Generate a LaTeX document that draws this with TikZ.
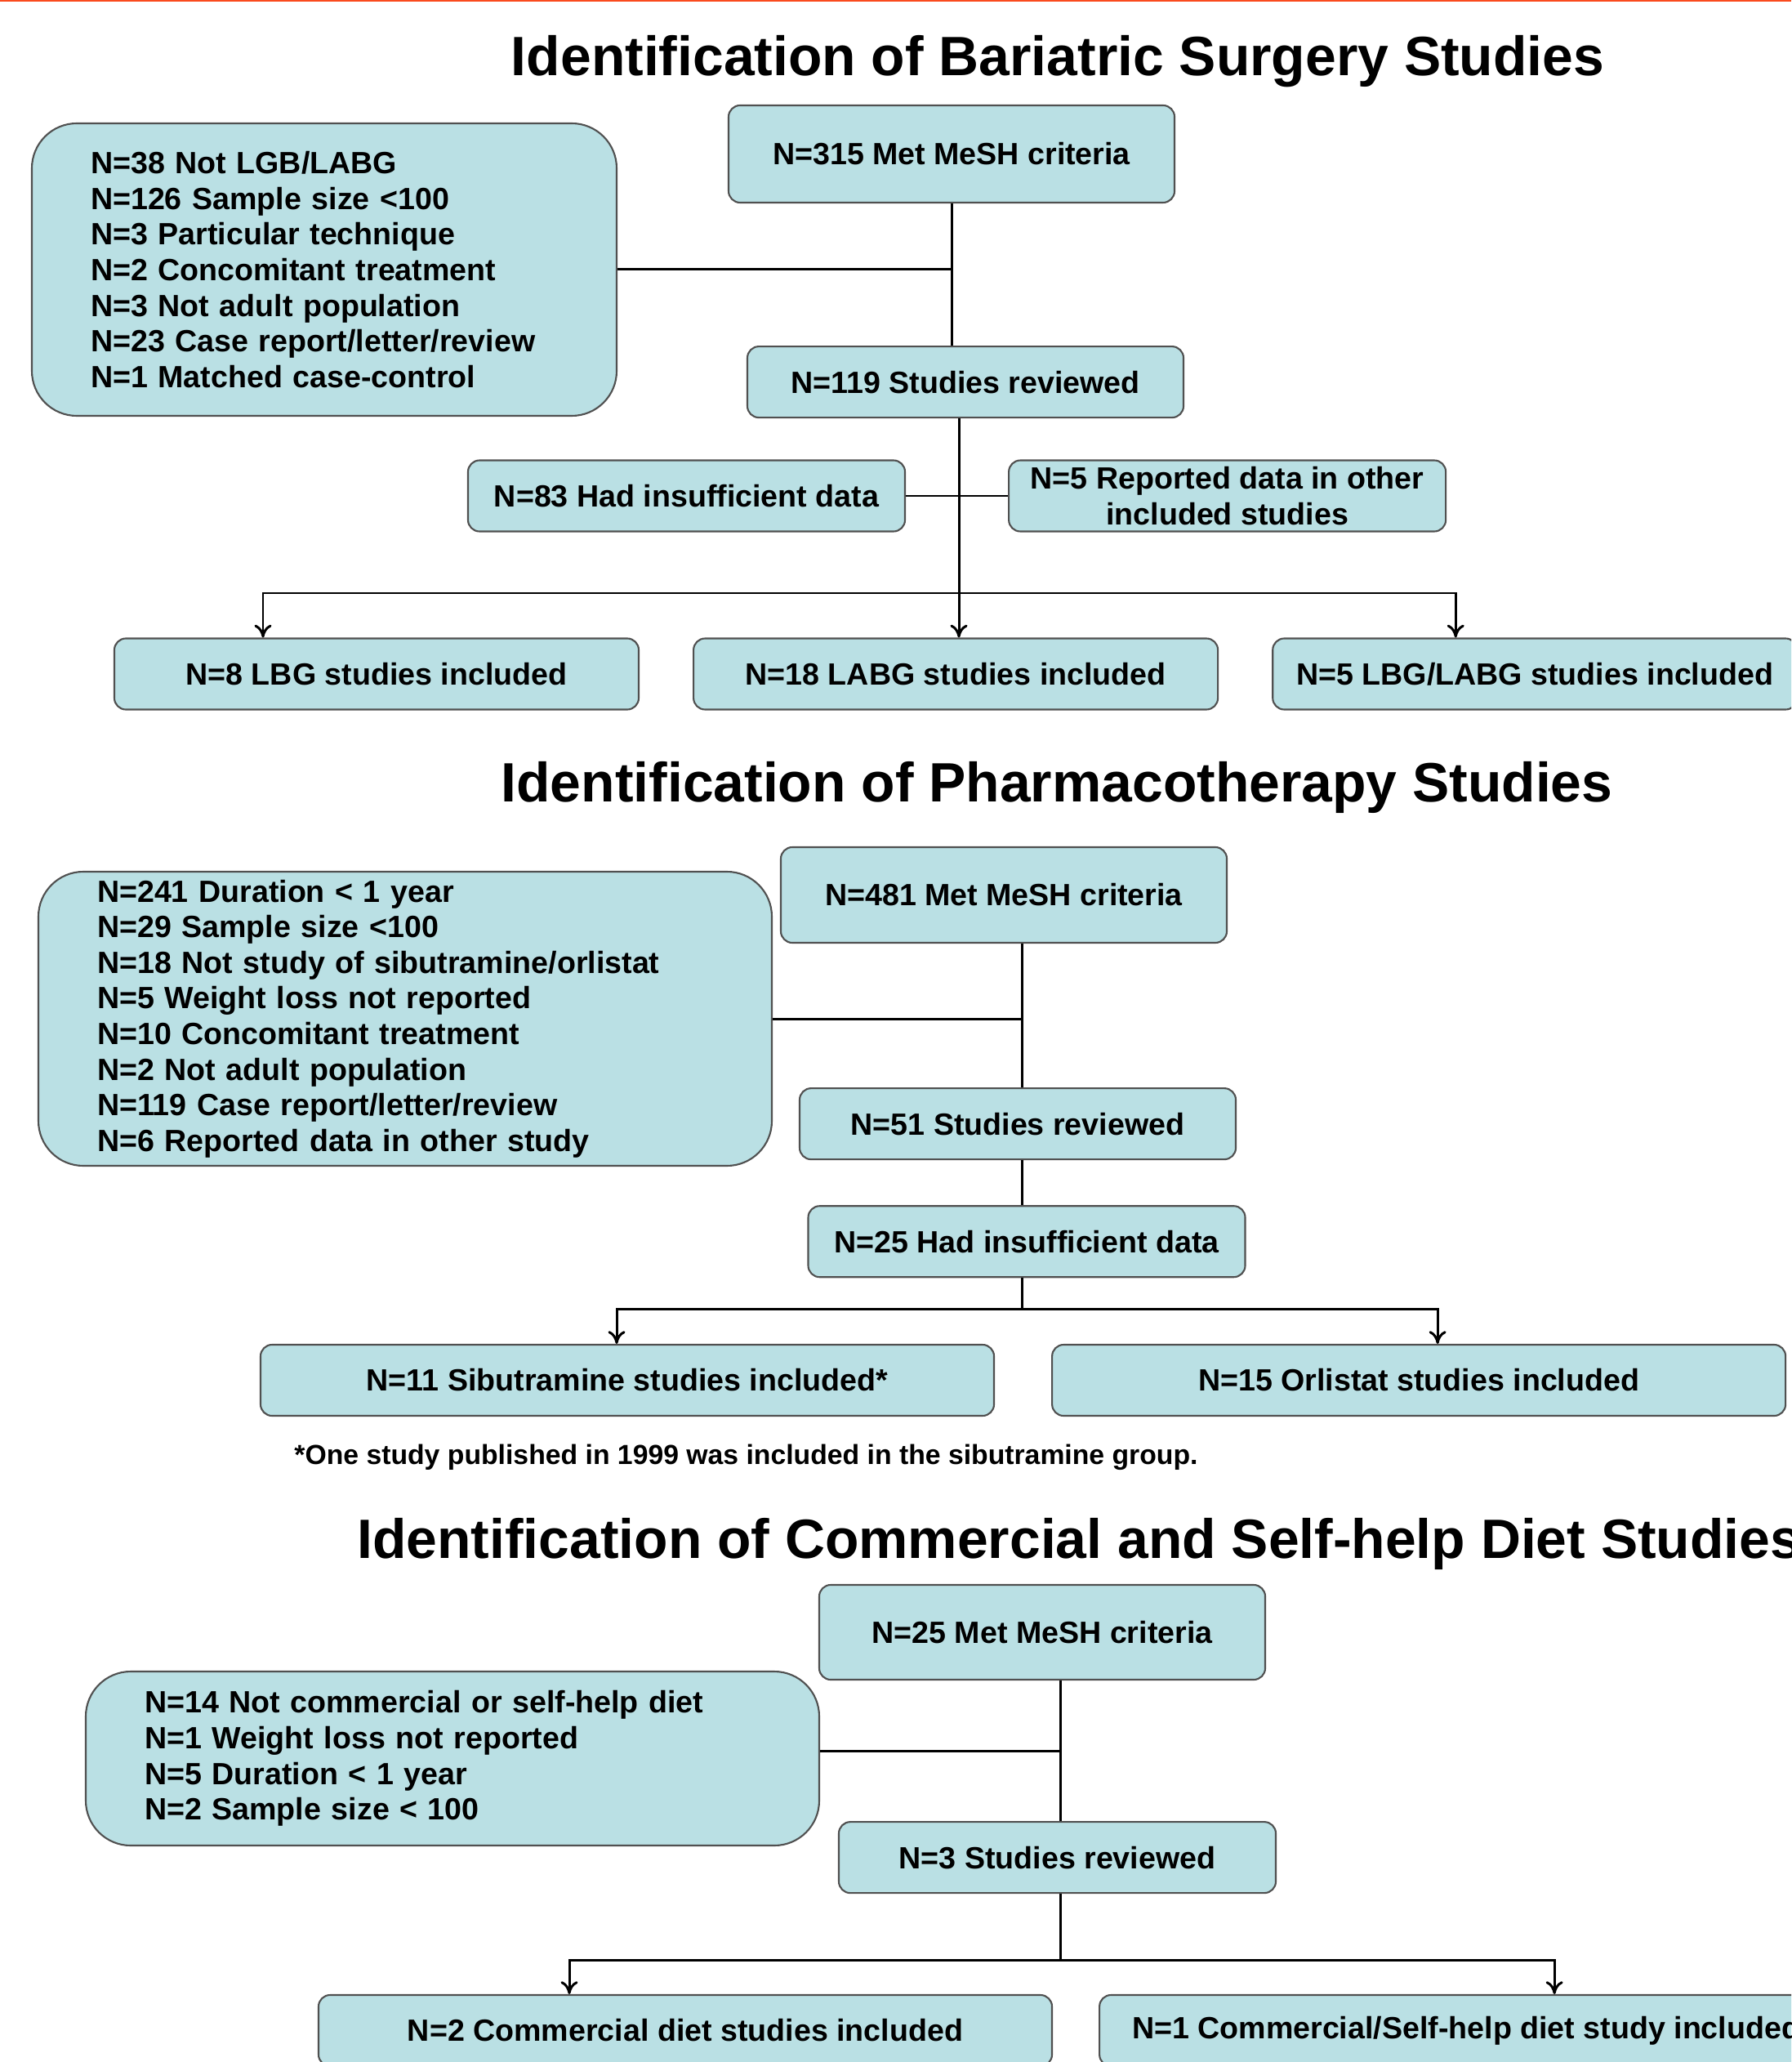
\documentclass[tikz,border=0pt]{standalone}
\usepackage{fontspec}
\setmainfont{Liberation Sans}
\usepackage{xcolor}
\usetikzlibrary{shapes, arrows, arrows.meta, positioning, calc}

\definecolor{boxfill}{RGB}{186,224,228}
\definecolor{boxline}{RGB}{80,80,80}
\definecolor{topline}{RGB}{250,75,30}

\begin{document}
\begin{tikzpicture}[node distance=1cm, >={To[length=4.5pt, width=6pt]},
    stage/.style={draw=boxline, line width=0.6pt, fill=boxfill, rectangle, rounded corners=4pt,
        inner sep=0pt, align=center, minimum height=0.87cm, font=\fontsize{10.7}{12.4}\selectfont\bfseries},
    excl/.style={stage, rounded corners=0.55cm, align=left, inner xsep=0.72cm},
    heading/.style={font=\fontsize{19.3}{23}\selectfont\bfseries},
    link/.style={line width=0.85pt}]
\useasboundingbox (0,0) rectangle (21.93,-25.24);
\clip (0,0) rectangle (21.93,-25.24);
\fill[topline] (0,0) rectangle (21.93,-0.025);

% bariatric surgery
\node[heading] (title1) at (12.95,-0.75) {Identification of Bariatric Surgery Studies};
\node[stage, minimum width=5.46cm, minimum height=1.19cm] (mesh1) at (11.65,-1.885) {N=315 Met MeSH criteria};
\node[excl, text width=5.72cm, minimum height=3.58cm] (excl1) at (3.97,-3.30) {N=38 Not LGB/LABG\\N=126 Sample size <100\\N=3 Particular technique\\N=2 Concomitant treatment\\N=3 Not adult population\\N=23 Case report/letter/review\\N=1 Matched case-control};
\node[stage, minimum width=5.34cm, below=1.74cm of mesh1, xshift=0.17cm] (rev1) {N=119 Studies reviewed};
\node[stage, minimum width=5.35cm] (insuf1) at (8.405,-6.07) {N=83 Had insufficient data};
\node[stage, minimum width=5.35cm, right=1.25cm of insuf1] (other1) {N=5 Reported data in other\\included studies};
\node[stage, minimum width=6.42cm] (lbg) at (4.61,-8.25) {N=8 LBG studies included};
\node[stage, minimum width=6.42cm, right=0.65cm of lbg] (labg) {N=18 LABG studies included};
\node[stage, minimum width=6.42cm, right=0.65cm of labg] (both) {N=5 LBG/LABG studies included};

\coordinate (split1) at (11.74,-7.26);
\draw[link] (mesh1.south) -- (mesh1.south |- rev1.north);
\draw[link] (excl1.east) -- (excl1.east -| mesh1.south);
\draw[link] (insuf1) -- (other1);
\draw[link] (rev1.south -| split1) -- (split1);
\draw[link, ->] (split1) -- (split1 |- labg.north);
\draw[link, ->] (split1) -| ($(lbg.north)+(-1.39,0)$);
\draw[link, ->] (split1) -| ($(both.north)+(-0.97,0)$);

% pharmacotherapy
\node[heading] (title2) at (12.94,-9.64) {Identification of Pharmacotherapy Studies};
\node[stage, minimum width=5.46cm, minimum height=1.17cm] (mesh2) at (12.29,-10.955) {N=481 Met MeSH criteria};
\node[excl, text width=7.54cm, minimum height=3.60cm] (excl2) at (4.96,-12.47) {N=241 Duration < 1 year\\N=29 Sample size <100\\N=18 Not study of sibutramine/orlistat\\N=5 Weight loss not reported\\N=10 Concomitant treatment\\N=2 Not adult population\\N=119 Case report/letter/review\\N=6 Reported data in other study};
\node[stage, minimum width=5.34cm, below=1.76cm of mesh2, xshift=0.17cm] (rev2) {N=51 Studies reviewed};
\node[stage, minimum width=5.35cm, below=0.55cm of rev2, xshift=0.11cm] (insuf2) {N=25 Had insufficient data};
\node[stage, minimum width=8.98cm] (sib) at (7.68,-16.895) {N=11 Sibutramine studies included*};
\node[stage, minimum width=8.98cm, right=0.69cm of sib] (orl) {N=15 Orlistat studies included};
\node[anchor=west, font=\fontsize{9.6}{11.5}\selectfont\bfseries] (note) at (3.48,-17.84) {*One study published in 1999 was included in the sibutramine group.};

\coordinate (split2) at (12.51,-16.02);
\draw[link] (mesh2.south -| split2) -- (rev2.north -| split2);
\draw[link] (excl2.east) -- (excl2.east -| split2);
\draw[link] (rev2.south -| split2) -- (insuf2.north -| split2);
\draw[link] (insuf2.south -| split2) -- (split2);
\draw[link, ->] (split2) -| ($(sib.north)+(-0.13,0)$);
\draw[link, ->] (split2) -| ($(orl.north)+(0.23,0)$);

% commercial and self-help diets
\node[heading, anchor=west] (title3) at (4.25,-18.90) {Identification of Commercial and Self-help Diet Studies};
\node[stage, minimum width=5.46cm, minimum height=1.16cm] (mesh3) at (12.76,-19.98) {N=25 Met MeSH criteria};
\node[excl, text width=7.54cm, minimum height=2.13cm] (excl3) at (5.54,-21.525) {N=14 Not commercial or self-help diet\\N=1 Weight loss not reported\\N=5 Duration < 1 year\\N=2 Sample size < 100};
\node[stage, minimum width=5.35cm, below=1.72cm of mesh3, xshift=0.185cm] (rev3) {N=3 Studies reviewed};
\node[stage, minimum width=8.98cm] (com) at (8.39,-24.855) {N=2 Commercial diet studies included};
\node[stage, minimum width=8.98cm, right=0.56cm of com] (cs) {N=1 Commercial/Self-help diet study included};

\coordinate (split3) at (12.98,-23.99);
\draw[link] (mesh3.south -| split3) -- (rev3.north -| split3);
\draw[link] ([yshift=0.09cm]excl3.east) -- ([yshift=0.09cm]excl3.east -| split3);
\draw[link] (rev3.south -| split3) -- (split3);
\draw[link, ->] (split3) -| ($(com.north)+(-1.42,0)$);
\draw[link, ->] (split3) -| ($(cs.north)+(1.08,0)$);
\end{tikzpicture}
\end{document}
